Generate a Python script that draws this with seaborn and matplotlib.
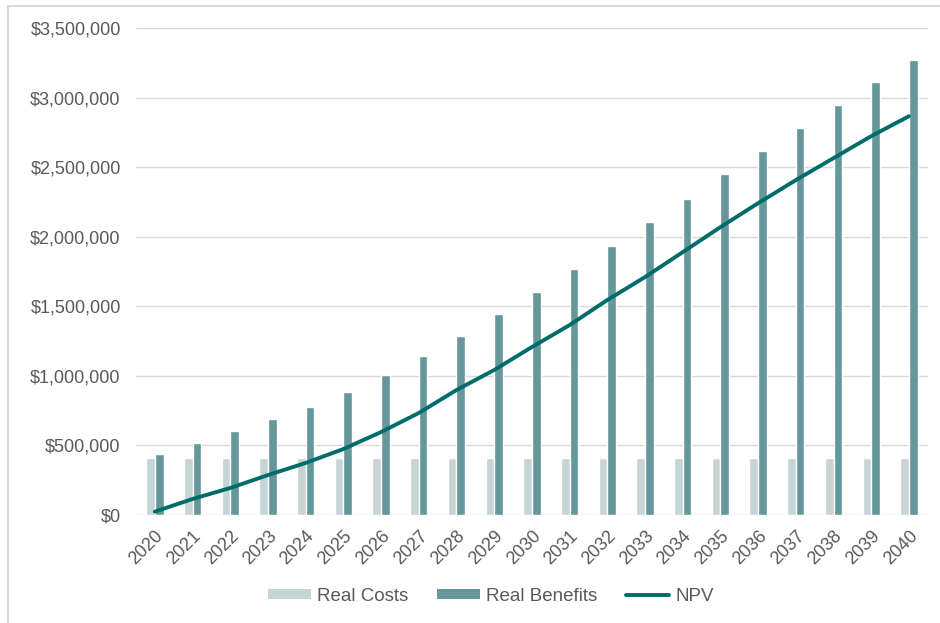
import numpy as np
import pandas as pd
import matplotlib
matplotlib.use("Agg")
import matplotlib.pyplot as plt
import seaborn as sns
from matplotlib.patches import Patch
from matplotlib.lines import Line2D
from matplotlib.ticker import FuncFormatter

years = [str(y) for y in range(2020, 2041)]
real_costs = [410000] * 21
real_benefits = [440000, 519000, 601000, 690000, 775000, 884000, 1008000,
                 1146000, 1284000, 1444000, 1600000, 1767000, 1932000,
                 2105000, 2272000, 2448000, 2617000, 2780000, 2950000,
                 3113000, 3269000]
npv = [24000, 115000, 194000, 287000, 374000, 474000, 596000, 733000,
       898000, 1042000, 1207000, 1365000, 1545000, 1710000, 1889000,
       2069000, 2241000, 2407000, 2565000, 2723000, 2866000]

series_names = ["Real Costs", "Real Benefits"]
cost_color = "#c5d4d5"
benefit_color = "#66979b"
npv_color = "#006b6b"
text_color = "#595959"
tick_fs = 13
legend_fs = 13.5

sns.set_theme(style="white")
plt.rcParams["font.family"] = ["Liberation Sans", "DejaVu Sans"]

df = pd.DataFrame({
    "year": years * 2,
    "value": real_costs + real_benefits,
    "series": [series_names[0]] * len(years) + [series_names[1]] * len(years),
})

fig = plt.figure(figsize=(9.4, 6.23), dpi=100)
ax = fig.add_axes([0.1447, 0.1734, 0.8423, 0.7816])

sns.barplot(data=df, x="year", y="value", hue="series",
            palette=[cost_color, benefit_color], width=0.46, gap=0,
            saturation=1, ax=ax, legend=False, errorbar=None)
sns.lineplot(x=np.arange(len(years)), y=npv, color=npv_color, linewidth=2.8,
             ax=ax, legend=False)

ax.set_ylim(0, 3500000)
ax.set_xlim(-0.5, len(years) - 0.5)
ax.set_yticks(np.arange(0, 3500001, 500000))
ax.yaxis.set_major_formatter(FuncFormatter(lambda v, p: f"${v:,.0f}"))
ax.grid(axis="y", color="#d9d9d9", linewidth=1)
ax.set_axisbelow(True)
for s in ax.spines.values():
    s.set_visible(False)
ax.set_xlabel("")
ax.set_ylabel("")
ax.tick_params(axis="both", length=0, colors=text_color, labelsize=tick_fs)
ax.tick_params(axis="y", pad=11)
ax.tick_params(axis="x", pad=9)
plt.setp(ax.get_xticklabels(), rotation=45, ha="right", rotation_mode="anchor")

handles = [
    Patch(facecolor=cost_color, edgecolor="none", label="Real Costs"),
    Patch(facecolor=benefit_color, edgecolor="none", label="Real Benefits"),
    Line2D([0], [0], color=npv_color, linewidth=2.8, label="NPV",
           solid_capstyle="round"),
]
leg = fig.legend(handles=handles, loc="center", bbox_to_anchor=(0.522, 0.043),
                 ncol=3, frameon=False, fontsize=legend_fs, handlelength=2.3,
                 handleheight=0.42, handletextpad=0.35, columnspacing=1.5)
for t in leg.get_texts():
    t.set_color(text_color)

# chart frame: left and top edges
fig.add_artist(Line2D([8 / 940, 8 / 940], [0, 1 - 6 / 623],
                      transform=fig.transFigure, color="#d9d9d9", linewidth=1.5))
fig.add_artist(Line2D([8 / 940, 1], [1 - 6 / 623, 1 - 6 / 623],
                      transform=fig.transFigure, color="#d9d9d9", linewidth=1.5))

fig.savefig("out.png", dpi=100, facecolor="white")
